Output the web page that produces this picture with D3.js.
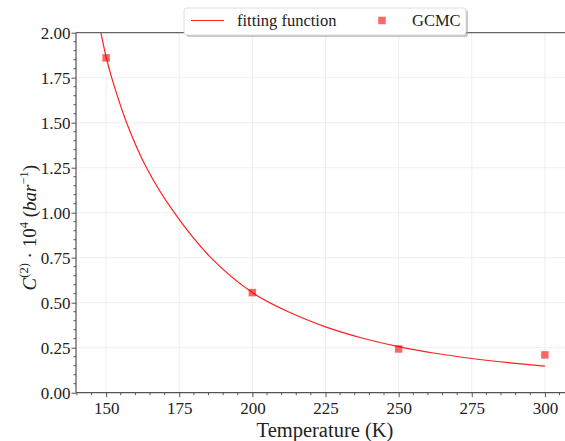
<!DOCTYPE html>
<html>
<head>
<meta charset="utf-8">
<script src="https://cdn.jsdelivr.net/npm/d3@7"></script>
<style>
  html, body { margin: 0; padding: 0; background: #fff; }
  svg { display: block; }
  text { font-family: "Liberation Serif", "Times New Roman", serif; fill: #222; }
</style>
</head>
<body>
<svg id="chart" width="565" height="441"></svg>
<script>
// Fitted curve, sampled along temperature (K)
const fitTemperature = [148.2, 150, 151.9, 157.0, 163.8, 173.3, 185.8, 200, 212.5, 225, 237.5, 250, 262.5, 275, 287.5, 300];
const fitValue       = [2.00, 1.865, 1.75, 1.50, 1.25, 1.00, 0.75, 0.556, 0.448, 0.366, 0.304, 0.256, 0.219, 0.190, 0.167, 0.148];

// GCMC simulation results
const gcmcTemperature = [150, 200, 250, 300];
const gcmcValue       = [1.86, 0.556, 0.243, 0.210];

// Tick labels
const xTicks = [150, 175, 200, 225, 250, 275, 300];
const yTicks = [0, 0.25, 0.5, 0.75, 1.0, 1.25, 1.5, 1.75, 2.0];

const svg = d3.select("#chart");
const plotLeft = 76, plotTop = 32.7, plotBottom = 392.7, plotRight = 567.4;

const x = d3.scaleLinear().domain([139.7, 307.7]).range([plotLeft, plotRight]);
const y = d3.scaleLinear().domain([0, 2]).range([plotBottom, plotTop]);

const grid = svg.append("g");
grid.selectAll(".gx").data(xTicks).join("line")
  .attr("x1", d => x(d)).attr("x2", d => x(d))
  .attr("y1", plotTop).attr("y2", plotBottom)
  .attr("stroke", "#ebebeb").attr("stroke-width", 0.8);
grid.selectAll(".gy").data(yTicks).join("line")
  .attr("x1", plotLeft).attr("x2", plotRight)
  .attr("y1", d => y(d)).attr("y2", d => y(d))
  .attr("stroke", "#ebebeb").attr("stroke-width", 0.8);

// clip for data
svg.append("clipPath").attr("id", "plotClip")
  .append("rect").attr("x", plotLeft).attr("y", plotTop)
  .attr("width", plotRight - plotLeft).attr("height", plotBottom - plotTop);

const plot = svg.append("g").attr("clip-path", "url(#plotClip)");

const line = d3.line()
  .x((d, i) => x(fitTemperature[i]))
  .y(d => y(d))
  .curve(d3.curveCatmullRom.alpha(0.5));

plot.append("path")
  .datum(fitValue)
  .attr("d", line)
  .attr("fill", "none")
  .attr("stroke", "#ff2020")
  .attr("stroke-width", 1.2);

const ms = 7.5;
plot.selectAll(".pt").data(gcmcValue).join("rect")
  .attr("x", (d, i) => x(gcmcTemperature[i]) - ms / 2)
  .attr("y", d => y(d) - ms / 2)
  .attr("width", ms).attr("height", ms)
  .attr("fill", "#ff0000").attr("fill-opacity", 0.6);

// axes
const xAxis = d3.axisBottom(x).tickValues(xTicks).tickSize(4.5).tickPadding(4.5).tickFormat(d3.format("d"));
const yAxis = d3.axisLeft(y).tickValues(yTicks).tickSize(4.5).tickPadding(1).tickFormat(d3.format(".2f"));

const xMinor = d3.range(140, 308, 5).filter(v => v % 25 !== 0);
const yMinor = d3.range(0, 2.001, 0.05).filter(v => Math.abs(v * 4 - Math.round(v * 4)) > 1e-6);

const gx = svg.append("g").attr("transform", `translate(0,${plotBottom})`).call(xAxis);
gx.append("g").selectAll("line").data(xMinor).join("line")
  .attr("x1", d => x(d)).attr("x2", d => x(d)).attr("y1", 0).attr("y2", 2.5)
  .attr("stroke", "#555");
const gy = svg.append("g").attr("transform", `translate(${plotLeft},0)`).call(yAxis);
gy.append("g").selectAll("line").data(yMinor).join("line")
  .attr("y1", d => y(d)).attr("y2", d => y(d)).attr("x1", 0).attr("x2", -2.5)
  .attr("stroke", "#555");

[gx, gy].forEach(g => {
  g.select(".domain").attr("stroke", "#555").attr("stroke-width", 1.2);
  g.selectAll(".tick line").attr("stroke", "#555");
  g.selectAll(".tick text")
    .attr("font-family", "Liberation Serif, serif")
    .attr("font-size", 17).attr("fill", "#222");
});
gx.select(".domain").attr("d", `M${plotLeft},0H${plotRight}`);
gy.select(".domain").attr("d", `M0,${plotBottom}V${plotTop}`);

// top spine
svg.append("line").attr("x1", plotLeft).attr("x2", plotRight).attr("y1", plotTop).attr("y2", plotTop)
  .attr("stroke", "#444").attr("stroke-width", 1);

// axis labels
svg.append("text")
  .attr("x", 325).attr("y", 437)
  .attr("text-anchor", "middle")
  .attr("font-size", 20.5)
  .text("Temperature (K)");

const yl = svg.append("text")
  .attr("x", 0).attr("y", 0)
  .attr("font-size", 19);
yl.append("tspan").attr("font-style", "italic").text("C");
yl.append("tspan").attr("font-size", 12.5).attr("dy", -8).text("(2)");
yl.append("tspan").attr("dy", 8).text(" · 10");
yl.append("tspan").attr("font-size", 12.5).attr("dy", -8).text("4");
yl.append("tspan").attr("dy", 8).text(" (");
yl.append("tspan").attr("font-style", "italic").text("bar");
yl.append("tspan").attr("font-size", 12.5).attr("dy", -8).text("−1");
yl.append("tspan").attr("dy", 8).text(")");
// centre the rotated label on the plot's vertical middle
const ylBox = yl.node().getBBox();
const ylCentre = (plotTop + plotBottom) / 2 + 15;
yl.attr("transform", `translate(36,${ylCentre + ylBox.x + ylBox.width / 2}) rotate(-90)`);

// legend
const lg = svg.append("g");
const lx = 184, ly = 8, lw = 282, lh = 27;
lg.append("rect").attr("x", lx + 2).attr("y", ly + 2).attr("width", lw).attr("height", lh)
  .attr("rx", 3).attr("fill", "#999").attr("fill-opacity", 0.55);
lg.append("rect").attr("x", lx).attr("y", ly).attr("width", lw).attr("height", lh)
  .attr("rx", 3).attr("fill", "#fff").attr("stroke", "#d6d6d6").attr("stroke-width", 0.8);
lg.append("line").attr("x1", 191).attr("x2", 224).attr("y1", 20.5).attr("y2", 20.5)
  .attr("stroke", "#ff2020").attr("stroke-width", 1.2);
lg.append("text").attr("x", 237).attr("y", 26).attr("font-size", 16.5).text("fitting function");
lg.append("rect").attr("x", 382 - ms / 2).attr("y", 20.5 - ms / 2).attr("width", ms).attr("height", ms)
  .attr("fill", "#ff0000").attr("fill-opacity", 0.6);
lg.append("text").attr("x", 412).attr("y", 26).attr("font-size", 16.5).text("GCMC");
</script>
</body>
</html>
